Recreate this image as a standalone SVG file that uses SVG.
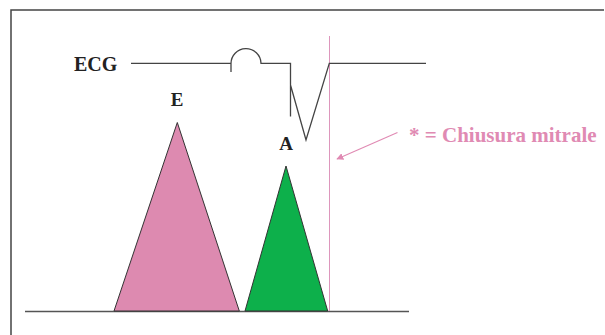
<svg xmlns="http://www.w3.org/2000/svg" width="605" height="335" viewBox="0 0 605 335">
<style>
.ln{fill:none;stroke:#444;stroke-width:1.3}
.lbl{font-family:"Liberation Serif",serif;font-weight:bold;fill:#222}
.pk{font-family:"Liberation Serif",serif;font-weight:bold;fill:#e08ab3}
</style>
<defs>
<marker id="ah" viewBox="0 0 10 10" refX="9" refY="5" markerWidth="7" markerHeight="7" orient="auto" markerUnits="userSpaceOnUse">
<path d="M0,0 L10,5 L0,10 z" fill="#e08ab3"/>
</marker>
</defs>
<rect width="605" height="335" fill="#fff"/>
<path d="M11,340 V10 H604" fill="none" stroke="#444" stroke-width="1.5"/>
<g id="connectors">
<line x1="25" y1="311.5" x2="409" y2="311.5" stroke="#555" stroke-width="1.3"/>
<line x1="329.5" y1="36" x2="329.5" y2="311" stroke="#d98ab4" stroke-width="0.9"/>
<line x1="397.5" y1="132.5" x2="337" y2="159" stroke="#e08ab3" stroke-width="1.1" marker-end="url(#ah)"/>
</g>
<g id="ecg">
<text class="lbl" x="74" y="70.5" font-size="20">ECG</text>
<path class="ln" d="M131,63.3 H231 M231,72 V64 A15,15 0 0 1 261,63.3 H290.5 V116.5 M290.5,85 L306,140 L329.3,63.3 H426"/>
</g>
<g id="E">
<polygon points="114,311 177.3,122.5 239.3,311" fill="#dd8ab0" stroke="#333" stroke-width="1"/>
<text class="lbl" x="177" y="106" font-size="19" text-anchor="middle">E</text>
</g>
<g id="A">
<polygon points="245,311 286,166 327.7,311" fill="#0db04b" stroke="#333" stroke-width="1"/>
<text class="lbl" x="286" y="150" font-size="19" text-anchor="middle">A</text>
</g>
<g id="note">
<text class="pk" x="409" y="141.5" font-size="21">* = Chiusura mitrale</text>
</g>
</svg>
